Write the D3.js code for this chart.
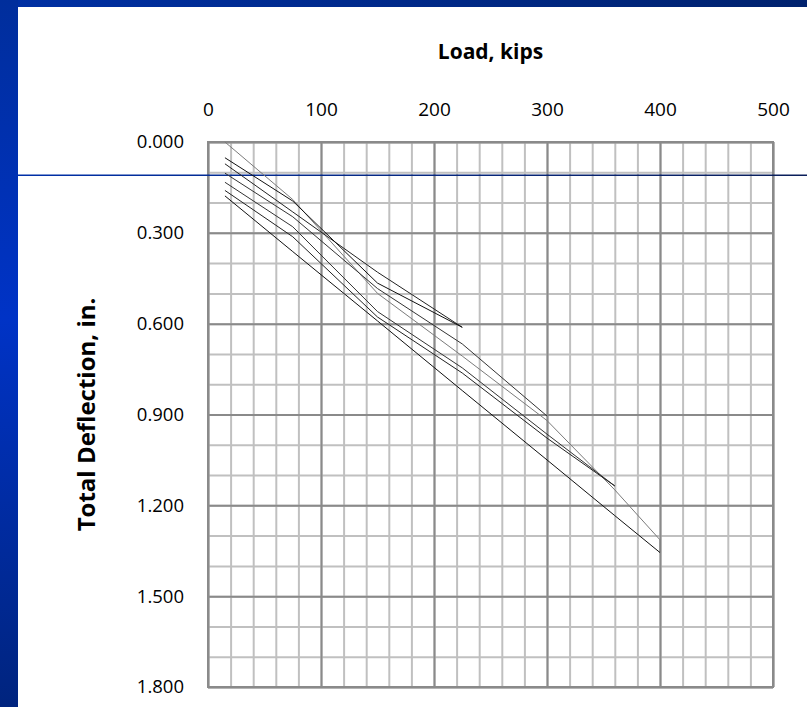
<!DOCTYPE html>
<html>
<head>
<meta charset="utf-8">
<script src="https://cdn.jsdelivr.net/npm/d3@7"></script>
<style>
  body { margin: 0; background: #fff; }
  svg { display: block; }
  text { font-family: "Open Sans", sans-serif; fill: #000; }
</style>
</head>
<body>
<div id="chart"></div>
<script>
// load steps, kips
const loads = [15, 75, 150, 225, 300, 360, 400];
const loadsGrey = [15, 75, 150, 225, 300, 360, 400, 400]; // hold at 400

// total deflection, in. (one array per pile test)
const deflGrey = [0.000, 0.190, 0.500, 0.707, 0.920, 1.149, 1.314, 1.356];
const defl1 = [0.072, 0.231, 0.430, 0.612];
const defl2 = [0.052, 0.195, 0.466, 0.612];
const defl3 = [0.103, 0.247, 0.484, 0.667, 0.905];
const defl4 = [0.133, 0.280, 0.560, 0.746, 0.965, 1.136];
const defl5 = [0.160, 0.313, 0.578, 0.763, 0.978, 1.136];
const defl6 = [0.178, 0.362, 0.591, 0.821, 1.050, 1.234, 1.356];

const xTicks = [0, 100, 200, 300, 400, 500];
const yTicks = [0, 0.3, 0.6, 0.9, 1.2, 1.5, 1.8];

const W = 807, H = 707;
const svg = d3.select("#chart").append("svg")
  .attr("width", W).attr("height", H);

// slide background
const defs = svg.append("defs");
const gTop = defs.append("linearGradient").attr("id", "gTop");
gTop.append("stop").attr("offset", 0).attr("stop-color", "#0030a4");
gTop.append("stop").attr("offset", 1).attr("stop-color", "#00226e");
const gLeft = defs.append("linearGradient").attr("id", "gLeft")
  .attr("x1", 0).attr("y1", 0).attr("x2", 0).attr("y2", 1);
gLeft.append("stop").attr("offset", 0).attr("stop-color", "#002e9c");
gLeft.append("stop").attr("offset", 0.45).attr("stop-color", "#0033c6");
gLeft.append("stop").attr("offset", 1).attr("stop-color", "#00247e");
const gRule = defs.append("linearGradient").attr("id", "gRule")
  .attr("gradientUnits", "userSpaceOnUse")
  .attr("x1", 18).attr("y1", 0).attr("x2", W).attr("y2", 0);
gRule.append("stop").attr("offset", 0).attr("stop-color", "#0030a8");
gRule.append("stop").attr("offset", 1).attr("stop-color", "#0b1f5a");

svg.append("rect").attr("width", W).attr("height", 7).attr("fill", "url(#gTop)");
svg.append("rect").attr("y", 0).attr("width", 18).attr("height", H).attr("fill", "url(#gLeft)");

// plot scales
const x = d3.scaleLinear().domain([0, 500]).range([208, 773]);
const y = d3.scaleLinear().domain([0, 1.8]).range([142, 687]);

const minorX = d3.range(0, 501, 20);
const minorY = d3.range(0, 19).map(i => i / 10);

const grid = svg.append("g");
grid.append("g")
  .attr("transform", `translate(0,${y(0)})`)
  .call(d3.axisTop(x).tickValues(minorX).tickSize(-(y(1.8) - y(0))).tickFormat(""))
  .call(g => g.select(".domain").remove())
  .call(g => g.selectAll("line").attr("stroke", "#c0c0c0").attr("stroke-width", 2));
grid.append("g")
  .attr("transform", `translate(${x(0)},0)`)
  .call(d3.axisLeft(y).tickValues(minorY).tickSize(-(x(500) - x(0))).tickFormat(""))
  .call(g => g.select(".domain").remove())
  .call(g => g.selectAll("line").attr("stroke", "#c0c0c0").attr("stroke-width", 2));
grid.append("g")
  .attr("transform", `translate(0,${y(0)})`)
  .call(d3.axisTop(x).tickValues(xTicks).tickSize(-(y(1.8) - y(0))).tickFormat(""))
  .call(g => g.select(".domain").remove())
  .call(g => g.selectAll("line").attr("stroke", "#8a8a8a").attr("stroke-width", 2));
grid.append("g")
  .attr("transform", `translate(${x(0)},0)`)
  .call(d3.axisLeft(y).tickValues(yTicks).tickSize(-(x(500) - x(0))).tickFormat(""))
  .call(g => g.select(".domain").remove())
  .call(g => g.selectAll("line").attr("stroke", "#8a8a8a").attr("stroke-width", 2));

grid.append("rect")
  .attr("x", x(0)).attr("y", y(0))
  .attr("width", x(500) - x(0)).attr("height", y(1.8) - y(0))
  .attr("fill", "none").attr("stroke", "#8a8a8a").attr("stroke-width", 2);

// template rule across the slide
svg.append("rect")
  .attr("x", 18).attr("y", 174.5).attr("width", W - 18).attr("height", 1.5)
  .attr("fill", "url(#gRule)");

// tick labels
svg.append("g")
  .attr("transform", `translate(0,${y(0) - 26})`)
  .call(d3.axisTop(x).tickValues(xTicks).tickSize(0).tickPadding(0).tickFormat(d3.format("d")))
  .call(g => g.select(".domain").remove())
  .call(g => g.selectAll("text").style("font-size", "19px").attr("fill", "#000"));

svg.append("g")
  .attr("transform", `translate(${x(0) - 24},0)`)
  .call(d3.axisLeft(y).tickValues(yTicks).tickSize(0).tickPadding(0).tickFormat(d3.format(".3f")))
  .call(g => g.select(".domain").remove())
  .call(g => g.selectAll("text").style("font-size", "18.5px").attr("fill", "#000"));

// axis titles
svg.append("text")
  .attr("x", (x(0) + x(500)) / 2).attr("y", 59)
  .attr("text-anchor", "middle")
  .style("font-size", "21px").style("font-weight", "bold")
  .text("Load, kips");

svg.append("text")
  .attr("transform", `translate(95,${(y(0) + y(1.8)) / 2}) rotate(-90)`)
  .attr("text-anchor", "middle")
  .style("font-size", "24px").style("font-weight", "bold")
  .text("Total Deflection, in.");

// test curves
const series = [
  { l: loadsGrey, d: deflGrey, c: "#7a7a7a" },
  { l: loads, d: defl1, c: "#222" },
  { l: loads, d: defl2, c: "#111" },
  { l: loads, d: defl3, c: "#333" },
  { l: loads, d: defl4, c: "#333" },
  { l: loads, d: defl5, c: "#222" },
  { l: loads, d: defl6, c: "#111" }
];

const line = d3.line()
  .x(p => x(p[0]))
  .y(p => y(p[1]));

svg.append("g")
  .selectAll("path")
  .data(series)
  .join("path")
    .attr("d", s => line(s.d.map((v, i) => [s.l[i], v])))
    .attr("fill", "none")
    .attr("stroke", s => s.c)
    .attr("stroke-width", 1);
</script>
</body>
</html>
